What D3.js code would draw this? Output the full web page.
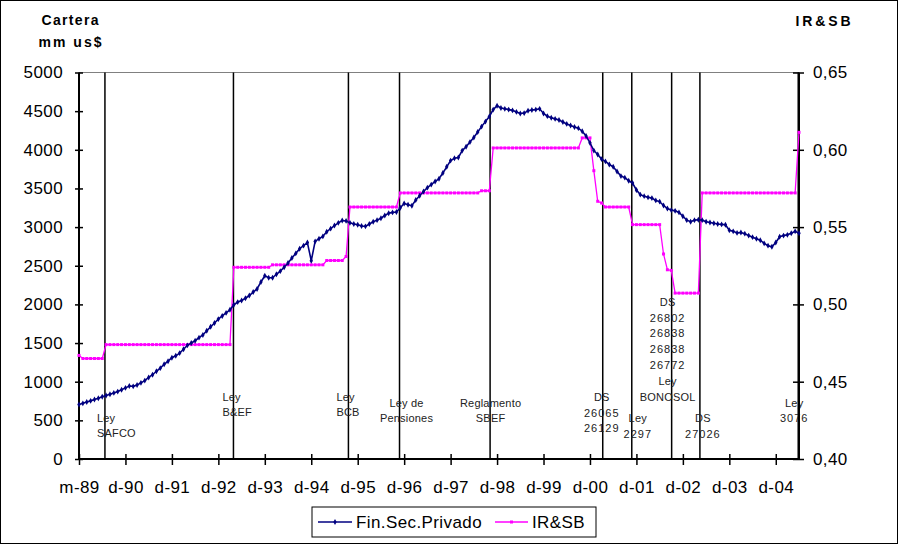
<!DOCTYPE html>
<html><head><meta charset="utf-8">
<script src="https://cdn.jsdelivr.net/npm/d3@7"></script>
<style>
html,body{margin:0;padding:0;background:#fff;}
svg{display:block;font-family:Arial,"Liberation Sans",sans-serif;}
</style></head>
<body><svg id="chart" width="898" height="544"></svg>
<script>
// Tick labels of the category axis (one every 12 months)
const xTickLabels = ["m-89","d-90","d-91","d-92","d-93","d-94","d-95","d-96","d-97","d-98","d-99","d-00","d-01","d-02","d-03","d-04"];
const leftTicks = [0,500,1000,1500,2000,2500,3000,3500,4000,4500,5000];
const rightTicks = [0.40,0.45,0.50,0.55,0.60,0.65];

// Cartera Fin.Sec.Privado (mm us$), monthly
const carteraValues = [
705,720,738,752,770,786,805,822,838,855,872,895,920,945,940,958,985,1014,1055,1090,
1135,1175,1225,1265,1310,1335,1370,1420,1470,1500,1530,1570,1605,1660,1710,1760,1810,1850,1890,1930,
1995,2030,2050,2080,2115,2160,2200,2290,2370,2345,2345,2390,2430,2480,2535,2600,2660,2720,2760,2800,
2565,2815,2850,2880,2940,2980,3020,3055,3085,3080,3055,3040,3030,3015,3010,3040,3070,3090,3115,3150,
3180,3190,3195,3250,3305,3290,3277,3350,3405,3460,3510,3550,3590,3625,3700,3780,3860,3890,3900,3990,
4040,4100,4160,4230,4300,4365,4430,4520,4570,4540,4530,4520,4510,4490,4470,4475,4505,4515,4520,4530,
4470,4435,4415,4400,4385,4360,4335,4315,4295,4280,4240,4180,4090,3990,3940,3880,3850,3810,3780,3720,
3660,3640,3600,3570,3480,3420,3400,3385,3375,3345,3330,3280,3240,3220,3210,3190,3140,3090,3070,3090,
3095,3090,3070,3060,3050,3040,3035,3030,2960,2945,2925,2930,2915,2890,2870,2850,2830,2790,2760,2745,
2800,2875,2890,2900,2920,2945,2920
];

// IR&SB ratio, monthly
const irsbValues = [
0.467,0.465,0.465,0.465,0.465,0.465,0.465,0.474,0.474,0.474,0.474,0.474,0.474,0.474,0.474,0.474,0.474,0.474,0.474,0.474,
0.474,0.474,0.474,0.474,0.474,0.474,0.474,0.474,0.474,0.474,0.474,0.474,0.474,0.474,0.474,0.474,0.474,0.474,0.474,0.474,
0.524,0.524,0.524,0.524,0.524,0.524,0.524,0.524,0.524,0.524,0.5256,0.5256,0.5256,0.5256,0.5256,0.5256,0.5256,0.5256,0.5256,0.5256,
0.5256,0.5256,0.5256,0.5256,0.5284,0.5284,0.5284,0.5284,0.5284,0.531,0.563,0.563,0.563,0.563,0.563,0.563,0.563,0.563,0.563,0.563,
0.563,0.563,0.563,0.5721,0.5721,0.5721,0.5721,0.5721,0.5721,0.5721,0.5721,0.5721,0.5721,0.5721,0.5721,0.5721,0.5721,0.5721,0.5721,0.5721,
0.5721,0.5721,0.5721,0.5721,0.5735,0.5735,0.5735,0.6012,0.6012,0.6012,0.6012,0.6012,0.6012,0.6012,0.6012,0.6012,0.6012,0.6012,0.6012,0.6012,
0.6012,0.6012,0.6012,0.6012,0.6012,0.6012,0.6012,0.6012,0.6012,0.6012,0.6077,0.6077,0.6077,0.5865,0.5667,0.5656,0.563,0.563,0.563,0.563,
0.563,0.563,0.563,0.5516,0.5516,0.5516,0.5516,0.5516,0.5516,0.5516,0.5516,0.5326,0.5224,0.522,0.5073,0.5073,0.5073,0.5073,0.5073,0.5073,
0.5073,0.5721,0.5721,0.5721,0.5721,0.5721,0.5721,0.5721,0.5721,0.5721,0.5721,0.5721,0.5721,0.5721,0.5721,0.5721,0.5721,0.5721,0.5721,0.5721,
0.5721,0.5721,0.5721,0.5721,0.5721,0.5721,0.6113
];

// Regulatory events (month index) and their labels
const eventIdx = [6.7, 39.9, 69.6, 82.8, 106.2, 135.3, 142.8, 153.1, 160.4, 185.8];
const eventLabels = [
  ["Ley","SAFCO"],
  ["Ley","B&EF"],
  ["Ley","BCB"],
  ["Ley de","Pensiones"],
  ["Reglamento","SBEF"],
  ["DS","26065","26129"],
  ["Ley","2297"],
  ["DS","26802","26838","26838","26772","Ley","BONOSOL"],
  ["DS","27026"],
  ["Ley","3076"]
];
// label placement (style): dx from line, anchor, first line y, line step
const eventLabelPos = [
  {dx:-8, anchor:"start", y:418, step:15.5},
  {dx:-11, anchor:"start", y:397, step:15.5},
  {dx:-12, anchor:"start", y:397, step:15.5},
  {dx:7, anchor:"middle", y:403, step:15},
  {dx:0.5, anchor:"middle", y:403, step:15},
  {dx:-1, anchor:"middle", y:397, step:15.7},
  {dx:6, anchor:"middle", y:418, step:15.7},
  {dx:-4, anchor:"middle", y:302, step:15.8},
  {dx:3, anchor:"middle", y:418, step:15.7},
  {dx:-4, anchor:"middle", y:403, step:15}
];

const svg = d3.select("#chart");
const W = 898, H = 544;
const L = 79, R = 799, T = 72.5, B = 459;

svg.append("rect").attr("x",0.5).attr("y",0.5).attr("width",W-1).attr("height",H-1)
  .attr("fill","#fff").attr("stroke","#000").attr("stroke-width",1);

const n = carteraValues.length;
const x = d3.scaleLinear().domain([0, n-1]).range([L, R]);
const yL = d3.scaleLinear().domain([0, 5000]).range([B, T]);
const yR = d3.scaleLinear().domain([0.40, 0.65]).range([B, T]);

// top border of plot area
svg.append("line").attr("x1",L).attr("x2",R).attr("y1",T).attr("y2",T)
  .attr("stroke","#808080").attr("stroke-width",1);

// event lines
svg.append("g").selectAll("line").data(eventIdx).join("line")
  .attr("x1",d=>x(d)).attr("x2",d=>x(d)).attr("y1",T).attr("y2",B)
  .attr("stroke","#000").attr("stroke-width",1.5);

// event labels
const lg = svg.append("g").attr("font-size",11).attr("fill","#222");
eventLabels.forEach((lines,i)=>{
  const p = eventLabelPos[i];
  lines.forEach((t,j)=>{
    lg.append("text").attr("x", x(eventIdx[i]) + p.dx).attr("y", p.y + j*p.step)
      .attr("dy","0.35em").attr("text-anchor",p.anchor)
      .attr("letter-spacing", /^\d+$/.test(t) ? 1 : 0.2)
      .text(t);
  });
});

// axes
const fontSize = 17;
const axL = svg.append("g").attr("transform",`translate(${L},0)`)
  .call(d3.axisLeft(yL).tickValues(leftTicks).tickSize(4).tickPadding(12).tickFormat(d3.format("d")));
const axR = svg.append("g").attr("transform",`translate(${R},0)`)
  .call(d3.axisRight(yR).tickValues(rightTicks).tickSize(5).tickPadding(9).tickFormat(d=>d3.format(".2f")(d).replace(".",",")));
const axB = svg.append("g").attr("transform",`translate(0,${B})`)
  .call(d3.axisBottom(x).tickValues(xTickLabels.map((_,i)=>i*12)).tickSize(6).tickPadding(16)
    .tickFormat((d,i)=>xTickLabels[i]));
[axL,axR,axB].forEach(a=>{
  a.select(".domain").attr("stroke","#000").attr("stroke-width",2);
  a.selectAll(".tick line").attr("stroke","#000").attr("stroke-width",1.5);
  a.selectAll("text").attr("font-size",fontSize).attr("fill","#000")
    .attr("font-family","Arial, 'Liberation Sans', sans-serif").attr("letter-spacing",0.4);
});
// ticks crossing the axes
axL.selectAll(".tick line").attr("x1",4);
axR.selectAll(".tick line").attr("x1",-6);
axB.selectAll(".tick line").attr("y1",-5);
axB.select(".domain").attr("d",`M${L},0H${R}`);
axL.select(".domain").attr("d",`M0,${B}V${T}`);
axR.select(".domain").attr("d",`M0,${B}V${T}`);

// series
const blue = "#000080", pink = "#FF00FF";
const lineL = d3.line().x((d,i)=>x(i)).y(d=>yL(d));
const lineR = d3.line().x((d,i)=>x(i)).y(d=>yR(d));

svg.append("path").datum(irsbValues).attr("d",lineR).attr("fill","none")
  .attr("stroke",pink).attr("stroke-width",1.3);
svg.append("g").selectAll("rect").data(irsbValues).join("rect")
  .attr("x",(d,i)=>x(i)-1.5).attr("y",d=>yR(d)-1.5).attr("width",3).attr("height",3).attr("fill",pink);

svg.append("path").datum(carteraValues).attr("d",lineL).attr("fill","none")
  .attr("stroke",blue).attr("stroke-width",1.6);
const diamond = d3.symbol().type(d3.symbolDiamond).size(10);
svg.append("g").selectAll("path").data(carteraValues).join("path")
  .attr("d",diamond).attr("transform",(d,i)=>`translate(${x(i)},${yL(d)})`).attr("fill",blue);

// axis titles
svg.append("text").attr("x",70).attr("y",20).attr("dy","0.35em").attr("text-anchor","middle")
  .attr("font-size",14).attr("font-weight","bold").attr("textLength",57).attr("lengthAdjust","spacing").text("Cartera");
svg.append("text").attr("x",70).attr("y",42).attr("dy","0.35em").attr("text-anchor","middle")
  .attr("font-size",14).attr("font-weight","bold").attr("textLength",63).attr("lengthAdjust","spacing").text("mm us$");
svg.append("text").attr("x",823).attr("y",21.5).attr("dy","0.35em").attr("text-anchor","middle")
  .attr("font-size",14).attr("font-weight","bold").attr("textLength",55).attr("lengthAdjust","spacing").text("IR&SB");

// legend
const leg = svg.append("g");
leg.append("rect").attr("x",312).attr("y",507).attr("width",284).attr("height",30)
  .attr("fill","#fff").attr("stroke","#000").attr("stroke-width",1);
const legItems = [
  {name:"Fin.Sec.Privado", color:blue, x1:318, x2:352, tx:356, mark:"d"},
  {name:"IR&SB", color:pink, x1:495, x2:528, tx:532, mark:"s"}
];
legItems.forEach(it=>{
  leg.append("line").attr("x1",it.x1).attr("x2",it.x2).attr("y1",522).attr("y2",522)
    .attr("stroke",it.color).attr("stroke-width",1.5);
  const cx = (it.x1+it.x2)/2;
  if(it.mark==="d") leg.append("path").attr("d",diamond).attr("transform",`translate(${cx},522)`).attr("fill",it.color);
  else leg.append("rect").attr("x",cx-1.5).attr("y",520.5).attr("width",3).attr("height",3).attr("fill",it.color);
  leg.append("text").attr("x",it.tx).attr("y",522).attr("dy","0.35em").attr("font-size",fontSize)
    .attr("letter-spacing",0.4).text(it.name);
});
</script></body></html>
